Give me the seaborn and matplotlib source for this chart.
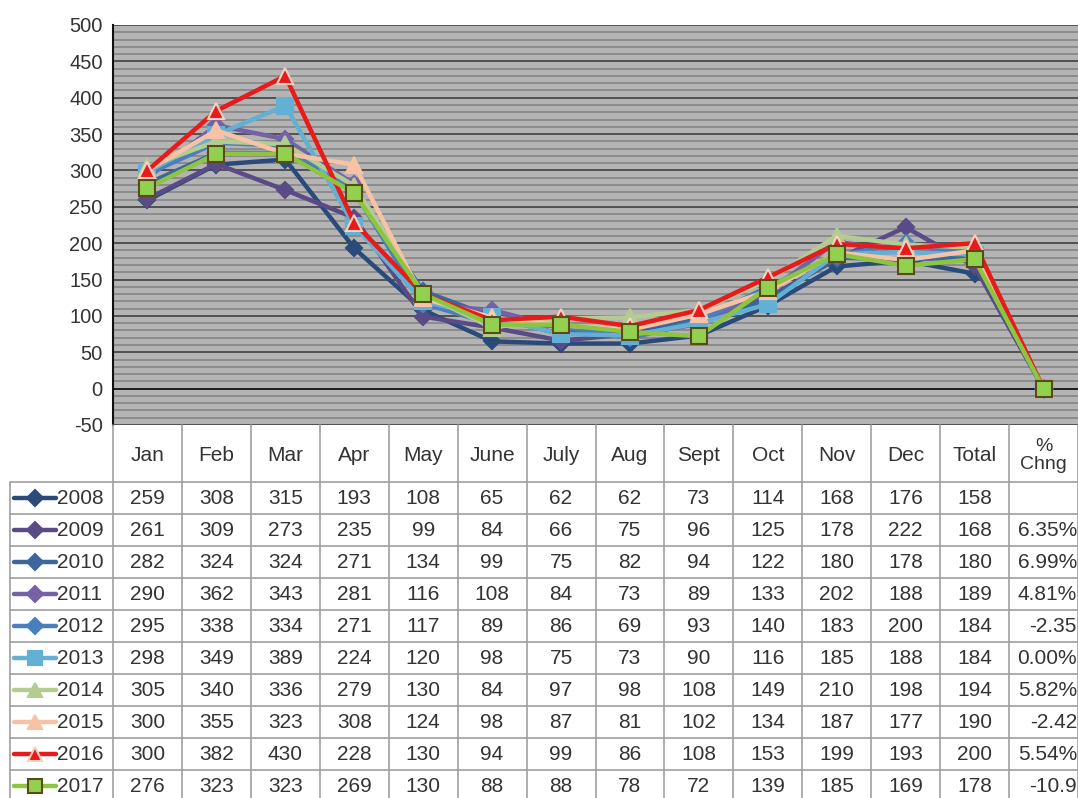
import numpy as np
import pandas as pd
import matplotlib
matplotlib.use("Agg")
import matplotlib.pyplot as plt
import seaborn as sns

# categories on the x axis (last one is the % change column)
columns = ["Jan", "Feb", "Mar", "Apr", "May", "June", "July", "Aug",
           "Sept", "Oct", "Nov", "Dec", "Total", "%\nChng"]
years = ["2008", "2009", "2010", "2011", "2012", "2013", "2014", "2015", "2016", "2017"]

y2008 = [259, 308, 315, 193, 108, 65, 62, 62, 73, 114, 168, 176, 158]
y2009 = [261, 309, 273, 235, 99, 84, 66, 75, 96, 125, 178, 222, 168]
y2010 = [282, 324, 324, 271, 134, 99, 75, 82, 94, 122, 180, 178, 180]
y2011 = [290, 362, 343, 281, 116, 108, 84, 73, 89, 133, 202, 188, 189]
y2012 = [295, 338, 334, 271, 117, 89, 86, 69, 93, 140, 183, 200, 184]
y2013 = [298, 349, 389, 224, 120, 98, 75, 73, 90, 116, 185, 188, 184]
y2014 = [305, 340, 336, 279, 130, 84, 97, 98, 108, 149, 210, 198, 194]
y2015 = [300, 355, 323, 308, 124, 98, 87, 81, 102, 134, 187, 177, 190]
y2016 = [300, 382, 430, 228, 130, 94, 99, 86, 108, 153, 199, 193, 200]
y2017 = [276, 323, 323, 269, 130, 88, 88, 78, 72, 139, 185, 169, 178]

# % change (as fractions) and how they are shown in the table
pct_change = [np.nan, 0.0635, 0.0699, 0.0481, -0.0235, 0.0, 0.0582, -0.0242, 0.0554, -0.109]
pct_text = ["", "6.35%", "6.99%", "4.81%", "-2.35", "0.00%", "5.82%", "-2.42", "5.54%", "-10.9"]

series = [y2008, y2009, y2010, y2011, y2012, y2013, y2014, y2015, y2016, y2017]

colors = ["#2a4a7a", "#5a4a86", "#3c679c", "#7561a6", "#4a7fbd",
          "#62b0d4", "#b4cc90", "#f8c2a6", "#e81a1a", "#8cc63f"]
marker_list = ["D", "D", "D", "D", "D", "s", "^", "^", "^", "s"]
edge_colors = [None] * 8 + ["#f6d0c0", "#5a4a1a"]
face_colors = colors[:9] + ["#92d050"]

rows = []
for yr, vals, pc in zip(years, series, pct_change):
    for i, v in enumerate(vals + [pc]):
        rows.append({"year": yr, "pos": i, "value": v})
df = pd.DataFrame(rows)

sns.set_style("white")
plt.rcParams["font.family"] = ["Liberation Sans", "DejaVu Sans"]
plt.rcParams["axes.unicode_minus"] = False

W, H = 1078, 798
fig = plt.figure(figsize=(W / 100, H / 100), dpi=100)
ax = fig.add_axes([113 / W, (H - 425) / H, 965 / W, 400 / H])

ax.set_facecolor("#b4b4b4")
for yv in range(-50, 501, 10):
    if yv == 0:
        continue
    ax.axhline(yv, color="#4a4a4a" if yv % 50 == 0 else "#808080",
               lw=1.3 if yv % 50 == 0 else 1.1, zorder=0.5)
ax.axhline(0, color="#111111", lw=1.3, zorder=0.6)

for k, yr in enumerate(years):
    sub = df[df["year"] == yr].dropna()
    sns.lineplot(data=sub, x="pos", y="value", ax=ax, color=colors[k],
                 lw=3.2, marker=marker_list[k],
                 markersize=11 if marker_list[k] != "D" else 8,
                 markerfacecolor=face_colors[k],
                 markeredgecolor=edge_colors[k] or colors[k],
                 markeredgewidth=1.5, zorder=2 + k, legend=False)

ax.set_xlim(-0.5, 13.5)
ax.set_ylim(-50, 500)
ax.set_yticks(range(-50, 501, 50))
ax.tick_params(axis="y", labelsize=14.5, labelcolor="#333333", length=4, color="#333333")
ax.set_xticks([])
ax.set_xlabel("")
ax.set_ylabel("")
for side in ["top", "right", "bottom"]:
    ax.spines[side].set_visible(False)
ax.spines["left"].set_color("#111111")
ax.spines["left"].set_linewidth(1.5)

# data table below the plot (pixel coordinates)
tab = fig.add_axes([0, 0, 1, 1], facecolor="none")
tab.set_xlim(0, W)
tab.set_ylim(H, 0)
tab.axis("off")

col_w = 965 / 14
x0 = 113
head_top, head_bot = 425, 482
row_h = 32
line_c = "#a0a0a0"
txt_c = "#333333"

# header
for j, c in enumerate(columns):
    cx = x0 + (j + 0.5) * col_w
    tab.text(cx, (head_top + head_bot) / 2 + 2, c, ha="center", va="center",
             fontsize=15 if "\n" not in c else 14, color=txt_c, linespacing=1.1)
for j in range(15):
    xx = x0 + j * col_w
    tab.plot([xx, xx], [head_top, H + 10], color=line_c, lw=1.2)
tab.plot([10, 10], [head_bot, H + 10], color=line_c, lw=1.2)

for r in range(11):
    yy = head_bot + r * row_h
    tab.plot([10, W], [yy, yy], color=line_c, lw=1.2)

for r, yr in enumerate(years):
    cy = head_bot + (r + 0.5) * row_h
    tab.plot([14, 56], [cy, cy], color=colors[r], lw=3.2)
    tab.plot([35], [cy], marker=marker_list[r],
             markersize=10 if marker_list[r] != "D" else 8,
             markerfacecolor=face_colors[r],
             markeredgecolor=edge_colors[r] or colors[r], markeredgewidth=1.5)
    tab.text(57, cy + 1, yr, ha="left", va="center", fontsize=15, color=txt_c)
    vals = series[r]
    for j, v in enumerate(vals):
        tab.text(x0 + (j + 0.5) * col_w, cy + 1, str(v), ha="center", va="center",
                 fontsize=15, color=txt_c)
    tab.text(W - 1, cy + 1, pct_text[r], ha="right", va="center",
             fontsize=15, color=txt_c)

fig.savefig("out.png", dpi=100)
